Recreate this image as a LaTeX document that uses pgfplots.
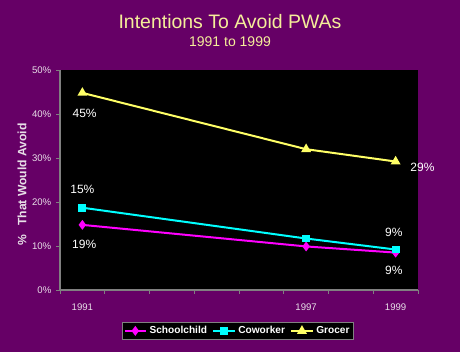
\documentclass[border=0pt]{standalone}
\usepackage{fontspec}
\setmainfont{Liberation Sans}
\usepackage{pgfplots}
\pgfplotsset{compat=1.18}
\definecolor{bgpurple}{HTML}{660066}
\definecolor{ttl}{HTML}{F5EE9A}
\definecolor{lbl}{HTML}{E8E0E8}
\definecolor{sch}{HTML}{FF00FF}
\definecolor{cow}{HTML}{00FFFF}
\definecolor{gro}{HTML}{FFFF66}
\begin{document}
\begin{tikzpicture}
\fill[bgpurple] (0,0) rectangle (345pt,264pt);
\useasboundingbox (0,0) rectangle (345pt,264pt);
\node[text=ttl, font=\fontsize{14.6pt}{16pt}\selectfont] at (172.5pt,247.5pt) {Intentions To Avoid PWAs};
\node[text=ttl, font=\fontsize{10.5pt}{12pt}\selectfont] at (172.5pt,232.5pt) {1991 to 1999};
\node[text=lbl, rotate=90, font=\bfseries\fontsize{9.1pt}{11pt}\selectfont] at (16.5pt,125.6pt) {\%\hspace{7pt}That Would Avoid};
\begin{axis}[
  at={(45pt,46.5pt)}, anchor=south west,
  scale only axis, width=268.5pt, height=165pt,
  axis background/.style={fill=black},
  axis x line=bottom, axis y line=left,
  axis line style={-, draw=gray, line width=0.8pt},
  xmin=-0.5, xmax=7.5, ymin=0, ymax=50,
  xtick={0,5,7}, xticklabels={1991,1997,1999},
  major x tick style={draw=none},
  minor xtick={-0.5,0.5,...,7.5},
  minor tick length=3pt,
  minor x tick style={draw=gray, line width=0.6pt},
  ytick={0,10,...,50},
  yticklabel={\pgfmathprintnumber{\tick}\%},
  major tick length=3pt,
  tick align=outside,
  y tick style={draw=gray, line width=0.6pt},
  /pgf/number format/assume math mode=true,
  ticklabel style={text=lbl, font=\fontsize{7.2pt}{8pt}\selectfont},
  xticklabel style={yshift=-4pt},
  clip=false,
  legend style={at={(0.497,-0.186)}, anchor=center, fill=black, draw=gray,
    text=white, font=\bfseries\fontsize{7.6pt}{9pt}\selectfont,
    legend columns=3, inner sep=1pt,
    /tikz/every even column/.append style={column sep=2pt}},
  legend image code/.code={
    \draw[mark repeat=2,mark phase=2] plot coordinates {(0cm,0cm) (0.28cm,0cm) (0.56cm,0cm)};},
]
\addplot[sch, line width=1.5pt, mark=diamond*, mark size=2.5pt] coordinates {(0,14.8) (5,9.9) (7,8.5)};
\addlegendentry{Schoolchild}
\addplot[cow, line width=1.5pt, mark=square*, mark size=2.2pt] coordinates {(0,18.7) (5,11.7) (7,9.2)};
\addlegendentry{Coworker}
\addplot[gro, line width=1.5pt, mark=triangle*, mark size=2.8pt] coordinates {(0,44.8) (5,32.0) (7,29.2)};
\addlegendentry{Grocer}
\node[text=white, font=\fontsize{9pt}{11pt}\selectfont] at (axis cs:0.05,40.2) {45\%};
\node[text=white, font=\fontsize{9pt}{11pt}\selectfont] at (axis cs:0.0,22.95) {15\%};
\node[text=white, font=\fontsize{9pt}{11pt}\selectfont] at (axis cs:0.04,10.45) {19\%};
\node[text=white, font=\fontsize{9pt}{11pt}\selectfont] at (axis cs:7.6,27.95) {29\%};
\node[text=white, font=\fontsize{9pt}{11pt}\selectfont] at (axis cs:6.96,13.2) {9\%};
\node[text=white, font=\fontsize{9pt}{11pt}\selectfont] at (axis cs:6.96,4.5) {9\%};
\end{axis}
\end{tikzpicture}
\end{document}
